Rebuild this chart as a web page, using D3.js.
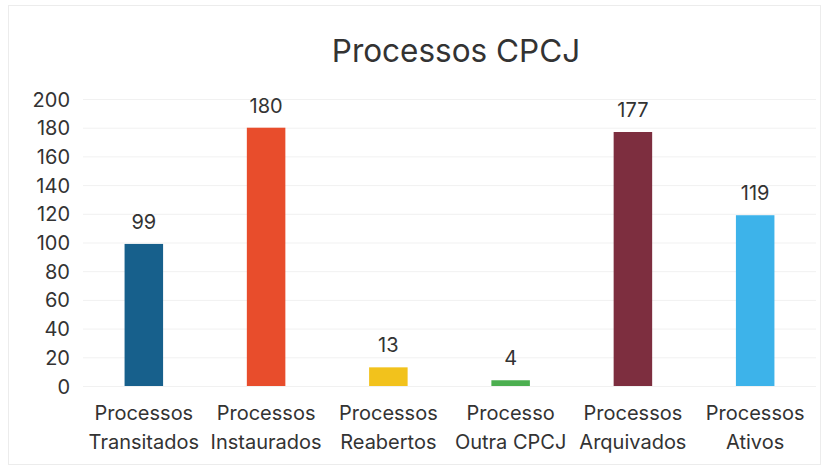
<!DOCTYPE html>
<html><head><meta charset="utf-8">
<script src="https://cdn.jsdelivr.net/npm/d3@7"></script>
<style>body{margin:0;background:#fff;} svg{display:block;}</style>
</head><body>
<svg id="c" width="829" height="470"></svg>
<script>
const categoriesLine1 = ["Processos","Processos","Processos","Processo","Processos","Processos"];
const categoriesLine2 = ["Transitados","Instaurados","Reabertos","Outra CPCJ","Arquivados","Ativos"];
const values = [99, 180, 13, 4, 177, 119];
const colors = ["#17608c","#e84d2c","#f2c21c","#4caf50","#7d2e3f","#3db3ea"];
const yTicks = [0,20,40,60,80,100,120,140,160,180,200];
const title = "Processos CPCJ";

(function(){
const svg = d3.select("#c");
const font = "Inter, 'Liberation Sans', Arial, sans-serif";
const textColor = "#333";
svg.append("rect").attr("x",8.5).attr("y",5.5).attr("width",812).attr("height",459)
  .attr("fill","#fff").attr("stroke","#ececec");

const mLeft = 83, mRight = 816, mTop = 99, mBottom = 386;
const idx = d3.range(values.length);
const x = d3.scaleBand().domain(idx).range([mLeft,mRight]).paddingInner(0.685).paddingOuter(0.34);
const y = d3.scaleLinear().domain([0,200]).range([mBottom,mTop]);

// gridlines
svg.append("g").selectAll("line").data(yTicks).join("line")
  .attr("x1",mLeft).attr("x2",mRight).attr("y1",d=>y(d)+0.5).attr("y2",d=>y(d)+0.5)
  .attr("stroke","#f1f1f1").attr("stroke-width",1);

// y axis
const yAxis = d3.axisLeft(y).tickValues(yTicks).tickSize(0).tickPadding(0);
const gy = svg.append("g").attr("transform",`translate(70,0)`).call(yAxis);
gy.select(".domain").remove();
gy.selectAll("text").attr("font-family",font).attr("font-size",20).attr("fill",textColor).attr("dy","0.35em");

// bars
svg.append("g").selectAll("rect").data(idx).join("rect")
  .attr("x",i=>x(i)).attr("width",x.bandwidth())
  .attr("y",i=>y(values[i])).attr("height",i=>y(0)-y(values[i]))
  .attr("fill",i=>colors[i]);

// data labels
svg.append("g").selectAll("text").data(idx).join("text")
  .attr("x",i=>x(i)+x.bandwidth()/2).attr("y",i=>y(values[i])-15)
  .attr("text-anchor","middle").attr("font-family",font).attr("font-size",20).attr("fill",textColor)
  .text(i=>values[i]);

// x axis labels
const xAxis = d3.axisBottom(x).tickSize(0).tickFormat(()=>"");
const gx = svg.append("g").attr("transform",`translate(0,${mBottom})`).call(xAxis);
gx.select(".domain").remove();
const lab = svg.append("g").selectAll("text").data(idx).join("text")
  .attr("text-anchor","middle").attr("font-family",font).attr("font-size",20).attr("fill",textColor);
lab.append("tspan").attr("x",i=>x(i)+x.bandwidth()/2).attr("y",420).text(i=>categoriesLine1[i]);
lab.append("tspan").attr("x",i=>x(i)+x.bandwidth()/2).attr("y",449).text(i=>categoriesLine2[i]);

// title
svg.append("text").attr("x",456).attr("y",62).attr("text-anchor","middle")
  .attr("font-family",font).attr("font-size",31.5).attr("fill",textColor).text(title);
})();
</script>
</body></html>
